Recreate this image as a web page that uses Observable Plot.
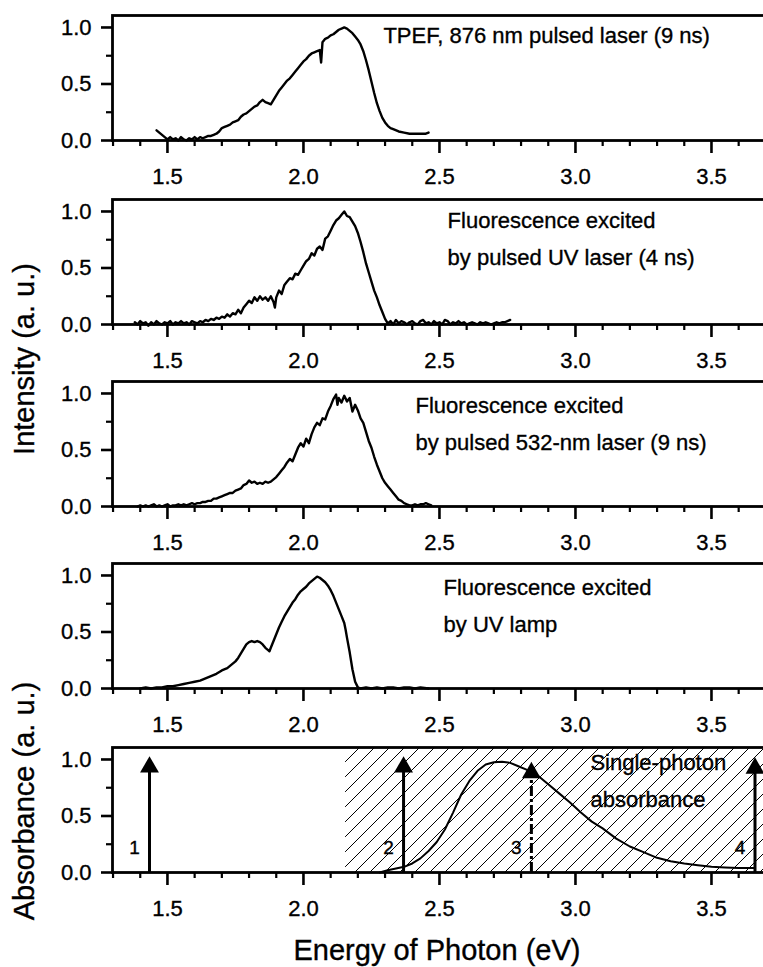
<!DOCTYPE html>
<html><head><meta charset="utf-8">
<script src="https://cdn.jsdelivr.net/npm/d3@7"></script>
<script src="https://cdn.jsdelivr.net/npm/@observablehq/plot@0.6"></script>
<style>
html,body{margin:0;padding:0;background:#fff;overflow:hidden;}
#chart{position:relative;width:763px;height:967px;overflow:hidden;background:#fff;font-family:"Liberation Sans",Arial,Helvetica,sans-serif;}
#chart svg{position:absolute;left:0;}
#chart svg text{stroke:#000;stroke-width:0.35px;}
</style></head><body><div id="chart"></div>
<script>
// ---------- data (energy eV, normalized intensity) ----------
const tpef = [[1.46,0.09],[1.47,0.07],[1.48,0.05],[1.49,0.03],[1.50,0.01],[1.51,0.03],[1.52,0.01],[1.53,0.02],[1.54,0.00],[1.55,0.03],[1.56,0.01],[1.57,0.00],[1.58,0.02],[1.59,0.01],[1.60,0.03],[1.61,0.01],[1.62,0.03],[1.63,0.02],[1.64,0.03],[1.65,0.04],[1.66,0.04],[1.67,0.05],[1.68,0.06],[1.69,0.08],[1.70,0.11],[1.71,0.12],[1.72,0.13],[1.73,0.14],[1.74,0.16],[1.75,0.17],[1.76,0.18],[1.77,0.21],[1.78,0.23],[1.79,0.24],[1.80,0.26],[1.81,0.28],[1.82,0.30],[1.83,0.31],[1.84,0.34],[1.85,0.36],[1.86,0.34],[1.87,0.33],[1.88,0.32],[1.89,0.36],[1.90,0.40],[1.91,0.44],[1.92,0.47],[1.93,0.50],[1.94,0.53],[1.95,0.55],[1.96,0.58],[1.97,0.61],[1.98,0.64],[1.99,0.67],[2.00,0.70],[2.01,0.72],[2.02,0.75],[2.03,0.77],[2.04,0.78],[2.05,0.79],[2.06,0.80],[2.065,0.69],[2.07,0.87],[2.08,0.90],[2.09,0.91],[2.10,0.93],[2.11,0.94],[2.12,0.96],[2.13,0.98],[2.14,0.99],[2.15,1.00],[2.16,0.99],[2.17,0.97],[2.18,0.95],[2.19,0.92],[2.20,0.89],[2.21,0.85],[2.22,0.79],[2.23,0.71],[2.24,0.62],[2.25,0.52],[2.26,0.42],[2.27,0.33],[2.28,0.26],[2.29,0.20],[2.30,0.16],[2.31,0.13],[2.32,0.11],[2.33,0.10],[2.35,0.08],[2.37,0.07],[2.39,0.06],[2.41,0.06],[2.43,0.06],[2.45,0.06],[2.46,0.07]];

const uvLaser = [[1.38,0.02],[1.39,0.00],[1.40,0.03],[1.41,0.01],[1.42,0.02],[1.43,-0.01],[1.44,0.02],[1.45,0.00],[1.46,0.03],[1.47,0.01],[1.48,0.00],[1.49,0.02],[1.50,0.01],[1.51,0.03],[1.52,0.00],[1.53,0.02],[1.54,0.01],[1.55,0.03],[1.56,0.01],[1.57,0.02],[1.58,0.00],[1.59,0.03],[1.60,0.02],[1.61,0.01],[1.62,0.03],[1.63,0.02],[1.64,0.04],[1.65,0.03],[1.66,0.05],[1.67,0.04],[1.68,0.06],[1.69,0.05],[1.70,0.07],[1.71,0.06],[1.72,0.09],[1.73,0.07],[1.74,0.10],[1.75,0.09],[1.76,0.13],[1.77,0.10],[1.78,0.15],[1.79,0.18],[1.80,0.21],[1.81,0.19],[1.82,0.24],[1.83,0.21],[1.84,0.25],[1.85,0.22],[1.86,0.24],[1.87,0.21],[1.88,0.25],[1.89,0.20],[1.895,0.15],[1.90,0.24],[1.91,0.30],[1.92,0.27],[1.93,0.35],[1.94,0.38],[1.95,0.41],[1.96,0.40],[1.97,0.45],[1.98,0.44],[1.99,0.48],[2.00,0.52],[2.01,0.56],[2.02,0.58],[2.03,0.63],[2.04,0.61],[2.05,0.67],[2.06,0.69],[2.07,0.66],[2.08,0.76],[2.09,0.78],[2.10,0.83],[2.11,0.88],[2.12,0.92],[2.13,0.94],[2.14,0.97],[2.15,1.00],[2.16,0.96],[2.17,0.95],[2.18,0.91],[2.19,0.87],[2.20,0.81],[2.21,0.73],[2.22,0.64],[2.23,0.54],[2.24,0.46],[2.25,0.38],[2.26,0.30],[2.27,0.24],[2.28,0.17],[2.29,0.11],[2.30,0.05],[2.31,0.01],[2.32,0.03],[2.33,0.00],[2.34,0.04],[2.35,0.01],[2.36,0.03],[2.37,0.02],[2.38,0.00],[2.39,0.02],[2.40,0.03],[2.41,0.01],[2.42,0.00],[2.43,0.03],[2.44,0.04],[2.45,0.01],[2.46,0.02],[2.47,0.00],[2.48,0.03],[2.49,0.01],[2.50,0.02],[2.51,0.00],[2.52,0.04],[2.53,0.03],[2.54,0.00],[2.55,0.02],[2.56,0.01],[2.57,0.03],[2.58,0.01],[2.59,0.02],[2.60,0.00],[2.61,0.01],[2.62,0.02],[2.63,0.01],[2.64,0.00],[2.65,0.02],[2.66,0.01],[2.67,0.02],[2.68,0.01],[2.69,0.00],[2.70,0.01],[2.71,0.02],[2.72,0.01],[2.73,0.02],[2.74,0.02],[2.75,0.03],[2.76,0.04]];

const greenLaser = [[1.39,0.00],[1.40,0.01],[1.41,0.00],[1.42,0.01],[1.43,0.00],[1.44,0.01],[1.45,0.02],[1.46,0.00],[1.47,0.01],[1.48,0.00],[1.49,0.01],[1.50,0.02],[1.51,0.00],[1.52,0.01],[1.53,0.01],[1.54,0.02],[1.55,0.01],[1.56,0.02],[1.57,0.01],[1.58,0.02],[1.59,0.03],[1.60,0.02],[1.61,0.03],[1.62,0.03],[1.63,0.04],[1.64,0.04],[1.65,0.05],[1.66,0.05],[1.67,0.07],[1.68,0.07],[1.69,0.08],[1.70,0.09],[1.71,0.10],[1.72,0.11],[1.73,0.12],[1.74,0.12],[1.75,0.14],[1.76,0.15],[1.77,0.16],[1.78,0.19],[1.79,0.20],[1.80,0.23],[1.81,0.21],[1.82,0.22],[1.83,0.20],[1.84,0.21],[1.85,0.20],[1.86,0.22],[1.87,0.21],[1.88,0.22],[1.89,0.24],[1.90,0.26],[1.91,0.29],[1.92,0.32],[1.93,0.35],[1.94,0.39],[1.95,0.42],[1.96,0.40],[1.97,0.46],[1.98,0.52],[1.99,0.56],[2.00,0.53],[2.01,0.60],[2.02,0.56],[2.03,0.64],[2.04,0.70],[2.05,0.74],[2.06,0.72],[2.07,0.78],[2.08,0.77],[2.09,0.84],[2.10,0.89],[2.11,0.95],[2.12,0.99],[2.125,0.90],[2.13,0.96],[2.14,0.92],[2.15,0.98],[2.16,0.93],[2.17,0.96],[2.18,0.84],[2.19,0.90],[2.20,0.85],[2.21,0.78],[2.22,0.74],[2.23,0.66],[2.24,0.58],[2.25,0.52],[2.26,0.44],[2.27,0.37],[2.28,0.31],[2.29,0.25],[2.30,0.21],[2.31,0.18],[2.32,0.15],[2.33,0.12],[2.34,0.09],[2.35,0.06],[2.36,0.05],[2.37,0.03],[2.38,0.02],[2.39,0.01],[2.40,0.01],[2.41,0.02],[2.42,0.01],[2.43,0.02],[2.44,0.02],[2.45,0.03],[2.46,0.02],[2.47,0.01]];

const uvLamp = [[1.40,0.00],[1.42,0.01],[1.44,0.00],[1.46,0.01],[1.48,0.01],[1.50,0.02],[1.52,0.02],[1.54,0.03],[1.56,0.04],[1.58,0.05],[1.60,0.06],[1.62,0.07],[1.64,0.09],[1.66,0.11],[1.68,0.13],[1.70,0.16],[1.72,0.18],[1.73,0.20],[1.74,0.22],[1.75,0.24],[1.76,0.27],[1.77,0.31],[1.78,0.35],[1.79,0.39],[1.80,0.41],[1.81,0.42],[1.82,0.41],[1.83,0.42],[1.84,0.41],[1.85,0.39],[1.86,0.36],[1.87,0.34],[1.875,0.33],[1.88,0.36],[1.89,0.42],[1.90,0.48],[1.91,0.54],[1.92,0.59],[1.93,0.64],[1.94,0.68],[1.95,0.72],[1.96,0.76],[1.97,0.79],[1.98,0.83],[1.99,0.86],[2.00,0.88],[2.01,0.90],[2.02,0.93],[2.03,0.95],[2.04,0.97],[2.05,0.99],[2.06,0.98],[2.07,0.96],[2.08,0.94],[2.09,0.91],[2.10,0.87],[2.11,0.82],[2.12,0.76],[2.13,0.70],[2.14,0.64],[2.15,0.58],[2.155,0.52],[2.16,0.45],[2.17,0.32],[2.18,0.17],[2.19,0.06],[2.20,0.01],[2.21,0.00],[2.23,0.01],[2.25,0.00],[2.27,0.01],[2.29,0.00],[2.31,0.01],[2.33,0.01],[2.35,0.00],[2.37,0.01],[2.39,0.01],[2.41,0.00],[2.43,0.01],[2.46,0.00]];

const absorbance = [[2.28,0.00],[2.31,0.02],[2.34,0.035],[2.37,0.05],[2.40,0.08],[2.43,0.125],[2.46,0.19],[2.49,0.27],[2.52,0.38],[2.55,0.53],[2.58,0.69],[2.61,0.81],[2.64,0.90],[2.67,0.955],[2.70,0.975],[2.73,0.98],[2.76,0.97],[2.79,0.94],[2.82,0.91],[2.86,0.86],[2.90,0.78],[2.94,0.70],[2.98,0.62],[3.02,0.53],[3.06,0.45],[3.10,0.39],[3.15,0.30],[3.20,0.23],[3.25,0.18],[3.30,0.13],[3.35,0.10],[3.40,0.08],[3.45,0.065],[3.50,0.05],[3.55,0.045],[3.60,0.04],[3.66,0.04]];

const hatchStart = 2.155;
const arrowE = [1.434, 2.368, 2.838, 3.66];
const arrowTop = [1.03, 1.03, 0.98, 1.02];
const arrowLabel = ["1", "2", "3", "4"];
const arrowDashed = [false, false, true, false];

const xMajorTicks = [1.5, 2.0, 2.5, 3.0, 3.5];
const xMinorTicks = [1.3, 1.4, 1.6, 1.7, 1.8, 1.9, 2.1, 2.2, 2.3, 2.4, 2.6, 2.7, 2.8, 2.9, 3.1, 3.2, 3.3, 3.4, 3.6, 3.7];
const yMajorTicks = [0, 0.5, 1.0];
const yMinorTicks = [0.25, 0.75];

// ---------- layout ----------
const FONT = '"Liberation Sans", Arial, Helvetica, sans-serif';
const X0 = 1.298, X1 = 3.717, YTOP = 1.106;
const W = 770, ML = 112, MT = 15, PH = 125, MB = 45;
const pxX = (X1 - X0) / (W - ML);
const pxY = YTOP / PH;
const chart = document.getElementById("chart");
const toPts = a => a.map(([e, v]) => ({e, v}));

function axisMarks() {
  return [
    Plot.ruleX(xMinorTicks, {x: d => d, y1: 0, y2: -6 * pxY, stroke: "#000", strokeWidth: 2.2}),
    Plot.ruleX(xMajorTicks, {x: d => d, y1: 0, y2: -13 * pxY, stroke: "#000", strokeWidth: 2.6}),
    Plot.text(xMajorTicks, {x: d => d, y: 0, dy: 36, text: d => d.toFixed(1), fontSize: 22}),
    Plot.ruleY(yMinorTicks, {y: d => d, x1: X0, x2: X0 - 6 * pxX, stroke: "#000", strokeWidth: 2.2}),
    Plot.ruleY(yMajorTicks, {y: d => d, x1: X0, x2: X0 - 11 * pxX, stroke: "#000", strokeWidth: 2.6}),
    Plot.text(yMajorTicks, {x: X0, y: d => d, dx: -21, textAnchor: "end", text: d => d.toFixed(1), fontSize: 22}),
    Plot.frame({stroke: "#000", strokeWidth: 2.8})
  ];
}

function panel(top, marks) {
  const svg = Plot.plot({
    width: W, height: MT + PH + MB,
    marginLeft: ML, marginRight: 0, marginTop: MT, marginBottom: MB,
    x: {domain: [X0, X1], axis: null},
    y: {domain: [0, YTOP], axis: null},
    style: {background: "transparent", overflow: "visible", maxWidth: "none", fontFamily: FONT, fontSize: "22px", color: "#000"},
    marks: [...marks, ...axisMarks()]
  });
  svg.style.top = (top - MT) + "px";
  chart.appendChild(svg);
  return svg;
}

const lineOpts = {x: "e", y: "v", stroke: "#000", strokeWidth: 2.4, strokeLinejoin: "round"};
const note = (txt, x, y) => Plot.text([txt], {x, y, text: d => d, textAnchor: "start", fontSize: 22});

panel(15, [
  Plot.line(toPts(tpef), lineOpts),
  note("TPEF, 876 nm pulsed laser (9 ns)", 2.294, 0.929)
]);
panel(199, [
  Plot.line(toPts(uvLaser), lineOpts),
  note("Fluorescence excited", 2.53, 0.92),
  note("by pulsed UV laser (4 ns)", 2.53, 0.585)
]);
panel(381, [
  Plot.line(toPts(greenLaser), lineOpts),
  note("Fluorescence excited", 2.412, 0.894),
  note("by pulsed 532-nm laser (9 ns)", 2.412, 0.558)
]);
panel(563, [
  Plot.line(toPts(uvLamp), lineOpts),
  note("Fluorescence excited", 2.515, 0.894),
  note("by UV lamp", 2.515, 0.558)
]);

const arrows = arrowE.map((e, i) => ({e, top: arrowTop[i], label: arrowLabel[i], dashed: arrowDashed[i]}));
const svg5 = panel(747, [
  Plot.rect([hatchStart], {x1: d => d, x2: X1, y1: 0, y2: YTOP, fill: "url(#hatch)"}),
  Plot.line(toPts(absorbance), {...lineOpts, strokeWidth: 2}),
  Plot.ruleX(arrows.filter(d => !d.dashed), {x: "e", y1: 0, y2: d => d.top - 11 * pxY, stroke: "#000", strokeWidth: 3}),
  Plot.ruleX(arrows.filter(d => d.dashed), {x: "e", y1: 0, y2: d => d.top - 11 * pxY, stroke: "#000", strokeWidth: 3, strokeDasharray: "10,3,3,3"}),
  Plot.dot(arrows, {x: "e", y: d => d.top - 11 * pxY, symbol: "triangle", r: 7, fill: "#000", stroke: "none"}),
  Plot.text(arrows, {x: "e", y: 0.22, dx: -15, text: "label", fontSize: 19}),
  note("Single-photon", 3.055, 0.965),
  note("absorbance", 3.055, 0.646)
]);
const defs = d3.select(svg5).insert("defs", ":first-child");
const pat = defs.append("pattern").attr("id", "hatch").attr("patternUnits", "userSpaceOnUse").attr("width", 15).attr("height", 15);
pat.append("path").attr("d", "M-2,2 L2,-2 M0,15 L15,0 M13,17 L17,13").attr("stroke", "#000").attr("stroke-width", 1).attr("fill", "none");

// axis titles
const ov = d3.select(chart).append("svg").attr("width", 763).attr("height", 967).style("top", "0px").style("pointer-events", "none")
  .style("font-family", FONT).style("font-size", "29px");
ov.append("text").attr("transform", "translate(34,359) rotate(-90)").attr("text-anchor", "middle").text("Intensity (a. u.)");
ov.append("text").attr("transform", "translate(34,801) rotate(-90)").attr("text-anchor", "middle").text("Absorbance (a. u.)");
ov.append("text").attr("x", 437).attr("y", 960).attr("text-anchor", "middle").text("Energy of Photon (eV)");
</script>
</body></html>
